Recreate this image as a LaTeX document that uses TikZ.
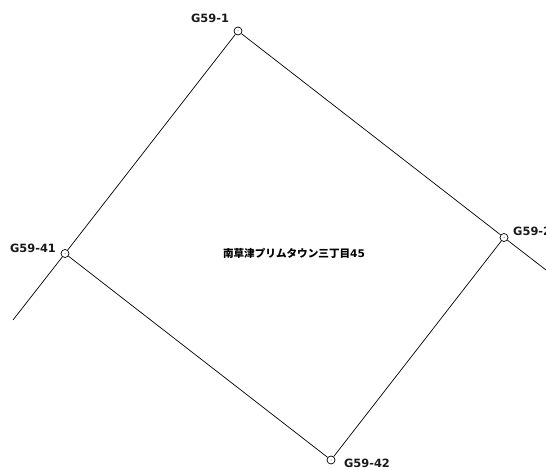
\documentclass[tikz,border=0pt]{standalone}
\usepackage{fontspec}
\setmainfont{DejaVu Sans}
\newfontfamily\cjkfont{Noto Sans CJK JP}
\tikzset{
  pt/.style={circle,draw=black,line width=0.7pt,fill=white,minimum size=8pt,inner sep=0pt,
    path picture={\fill[black!70] (path picture bounding box.center) circle (0.5pt);}},
  lbl/.style={inner sep=0pt,anchor=center,font=\fontsize{11.4}{13}\selectfont\bfseries,text=black!90},
  lot/.style={line width=0.7pt,draw=black}
}
\begin{document}
\begin{tikzpicture}[x=1pt,y=-1pt]
\clip (0,0) rectangle (546,470);
\useasboundingbox (0,0) rectangle (546,470);
\node[pt] (a) at (238,31) {};
\node[pt] (b) at (504,237.5) {};
\node[pt] (c) at (331,460) {};
\node[pt] (d) at (65,253.5) {};
\coordinate (e1) at (546,270);
\coordinate (e2) at (13,320);
\draw[lot] (a) -- (b);
\draw[lot] (b) -- (c);
\draw[lot] (c) -- (d);
\draw[lot] (d) -- (a);
\draw[lot] (b) -- (e1);
\draw[lot] (d) -- (e2);
\node[lbl] (la) at (210,18.5) {G59-1};
\node[lbl,anchor=west] (lb) at (513,231) {G59-2};
\node[lbl] (ld) at (33,248) {G59-41};
\node[lbl] (lc) at (367,463.5) {G59-42};
\node[inner sep=0pt,font=\fontsize{10.6}{13}\selectfont\bfseries] (t) at (294,253) {{\cjkfont\bfseries 南草津プリムタウン三丁目}45};
\end{tikzpicture}
\end{document}
